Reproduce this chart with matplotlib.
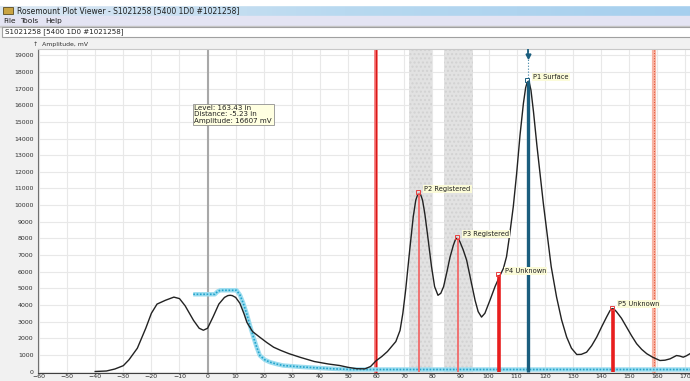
import matplotlib
matplotlib.use('Agg')
import matplotlib.pyplot as plt
import numpy as np
from matplotlib.patches import Rectangle

# ==========================================
# DADOS DO ECO
# ==========================================
dist_eco = [-40, -36, -33, -30, -28, -25, -22, -20, -18, -15, -12, -10, -8, -5, -3, -1.5, 0,
            2, 4, 6, 7.2, 8, 8.8, 10, 11.5, 13, 14, 16, 18.5, 21, 23.5, 26, 29, 33, 38, 43, 47, 50,
            53, 56, 58, 60, 62, 64, 65.5, 67, 68.5, 69.5, 70.5, 72, 73.2, 74.1, 74.8, 75.3, 75.8,
            76.5, 77.3, 78.3, 79.7, 80.8, 82, 83, 84, 85.2, 86.3, 87.5, 88.2, 88.7, 89.3, 89.8,
            91, 92.2, 93.7, 95.2, 96.3, 97.5, 98.7, 100.5, 102.3, 104.1, 105.3, 106.4, 107.5,
            108.8, 110, 111.2, 112.4, 113.2, 113.7, 114.1, 114.5, 115.1, 116, 117.2, 118.3, 119.5,
            120.7, 122.3, 124.2, 126, 127.8, 129.5, 131.4, 133, 134.9, 136.7, 138.5, 140.3, 142,
            143.2, 143.7, 144.2, 144.7, 145.5, 147.3, 149.1, 150.9, 152.7, 154.5, 156.3, 158.5,
            161, 162.8, 164.6, 166, 166.9, 168, 169.3, 170.5, 171.7]
amp_eco = [0, 30, 150, 350, 700, 1400, 2600, 3500, 4050, 4280, 4470, 4380, 3950, 3070, 2600,
           2480, 2600, 3300, 4050, 4450, 4560, 4580, 4560, 4450, 4100, 3450, 2950, 2400, 2070,
           1750, 1460, 1270, 1070, 850, 600, 450, 360, 250, 170, 160, 300, 650, 900, 1200, 1500,
           1800, 2470, 3500, 4900, 7400, 9300, 10300, 10640, 10700, 10640, 10300, 9500, 8200,
           6300, 5100, 4580, 4700, 5100, 6000, 6880, 7600, 7920, 8000, 7950, 7800, 7300, 6690,
           5500, 4280, 3600, 3270, 3500, 4280, 5100, 5780, 6200, 6900, 8200, 9900, 11900, 14200,
           16100, 17050, 17350, 17430, 17350, 16900, 15600, 13600, 11900, 10100, 8490, 6300,
           4480, 3100, 2070, 1400, 1020, 1030, 1160, 1550, 2070, 2700, 3270, 3650, 3750, 3780,
           3740, 3600, 3200, 2670, 2150, 1670, 1330, 1070, 850, 660, 680, 760, 880, 960, 930,
           860, 950, 1070]

# Curva de limiar (ATC)
dist_limiar = [-5.1, 2.6, 3.5, 4.5, 10.3, 11.5, 12.7, 13.9, 15.1, 16.3, 17.5, 18.6, 20.4,
               22.2, 24.5, 26.9, 33, 38.8, 45, 50.7, 171.7]
amp_limiar = [4640, 4640, 4800, 4880, 4880, 4600, 4100, 3480, 2750, 2070, 1450, 960, 700,
              560, 450, 360, 280, 220, 160, 120, 120]

# Picos
picos_nome = ['P1 Surface', 'P2 Registered', 'P3 Registered', 'P4 Unknown', 'P5 Unknown']
picos_dist = [114.1, 75.3, 89.0, 103.8, 144.2]
picos_amp = [17430, 10700, 8000, 5780, 3780]

# Zonas cinzas e linhas de referência
zonas = [(71.8, 80.0), (84.2, 94.3)]
linha_ref1 = 60.0
linha_ref2 = 159.0

W, H = 690, 381
fig = plt.figure(figsize=(W / 100, H / 100), dpi=100, facecolor='#f1f1f1')

# ==========================================
# "JANELA" (barra de título, menu, combo)
# ==========================================
chrome = fig.add_axes([0, 0, 1, 1])
chrome.set_xlim(0, W)
chrome.set_ylim(H, 0)
chrome.axis('off')
chrome.add_patch(Rectangle((0, 0), W, 5, color='white'))
grad = np.linspace(0, 1, 256).reshape(1, -1)
chrome.imshow(grad, extent=(0, W, 16, 5), aspect='auto',
              cmap=matplotlib.colors.LinearSegmentedColormap.from_list('t', ['#dbe7f3', '#b8d9f0', '#a6cfee']))
chrome.add_patch(Rectangle((0, 16), W, 9, color='#e4e4f3'))
chrome.add_patch(Rectangle((0, 25.5), W, 1, color='#c8c8c8'))
chrome.add_patch(Rectangle((2, 27), W, 10, facecolor='white', edgecolor='#a0a0a0', lw=0.8))
chrome.add_patch(Rectangle((3, 7), 10, 7, facecolor='#c9a443', edgecolor='#5a4a20', lw=0.6))
chrome.set_xlim(0, W)
chrome.set_ylim(H, 0)
chrome.text(17, 10.5, 'Rosemount Plot Viewer - S1021258 [5400 1D0 #1021258]',
            fontsize=5.5, va='center', color='#202020')
chrome.text(3, 20.8, 'File', fontsize=5.3, va='center', color='#202020')
chrome.text(20, 20.8, 'Tools', fontsize=5.3, va='center', color='#202020')
chrome.text(45, 20.8, 'Help', fontsize=5.3, va='center', color='#202020')
chrome.text(5, 32, 'S1021258 [5400 1D0 #1021258]', fontsize=5.1, va='center', color='#202020')
chrome.text(33, 44.5, '↑  Amplitude, mV', fontsize=4.4, va='center', color='#303030')

# ==========================================
# GRÁFICO
# ==========================================
ax = fig.add_axes([38 / W, (H - 372.5) / H, 1 - 38 / W, (372.5 - 49.3) / H])
ax.set_facecolor('white')
ax.set_xlim(-60.36, 171.7)
ax.set_ylim(-60, 19360)
ax.set_xticks(np.arange(-60, 171, 10))
ax.set_yticks(np.arange(0, 19001, 1000))
ax.tick_params(axis='both', length=0, labelsize=4.5, labelcolor='#303030')
ax.tick_params(axis='x', pad=1.2)
ax.tick_params(axis='y', pad=3.3)
ax.grid(True, color='#e8e8e8', lw=0.8)
ax.set_axisbelow(True)
ax.spines['right'].set_visible(False)
ax.spines['top'].set_color('#c8c8c8')
ax.spines['left'].set_color('#707070')
ax.spines['bottom'].set_color('#404040')

# zonas cinzas
for a, b in zonas:
    ax.axvspan(a, b, facecolor='#e2e2e2', edgecolor='#d2d2d2', hatch='....', lw=0, zorder=1)

# linha do cursor em 0
ax.axvline(0, color='#a8a8a8', lw=1.5, zorder=1.5)

# linhas vermelhas de referência
ax.axvline(linha_ref1, color='#f36a6a', lw=2.6, zorder=2)
ax.axvline(linha_ref1, color='#d81818', lw=0.8, zorder=2.1)
ax.axvline(linha_ref2, color='#f7b2a2', lw=3, zorder=2)
ax.axvline(linha_ref2, color='#e04a2a', lw=0.7, ls=':', zorder=2.1)

# curva de limiar (tracejada ciano)
ax.plot(dist_limiar, amp_limiar, color='#9bdcef', lw=3.2, zorder=3, solid_capstyle='butt')
ax.plot(dist_limiar, amp_limiar, color='#22a4cc', lw=1.2, ls=(0, (1, 1)), zorder=3.1)

# curva do eco
ax.plot(dist_eco, amp_eco, color='#222222', lw=1.0, zorder=4, solid_joinstyle='round')

# linhas dos picos
estilos = [('#1b5e7e', 2.4), ('#f07272', 1.4), ('#f07272', 1.4), ('#e81e1e', 2.6), ('#e81e1e', 2.6)]
for (cor, lw), xd, yd in zip(estilos, picos_dist, picos_amp):
    ax.plot([xd, xd], [0, yd], color=cor, lw=lw, zorder=5, solid_capstyle='butt')

# P1: linha pontilhada até o topo e seta
ax.plot([picos_dist[0], picos_dist[0]], [picos_amp[0], 19360], color='#3a80a2', lw=0.8, ls=':', zorder=5)
ax.plot([picos_dist[0]], [18950], marker='v', ms=3.5, color='#1b5e7e', zorder=6)
ax.plot([picos_dist[0], picos_dist[0]], [19000, 19360], color='#1b5e7e', lw=1.3, zorder=6)

# marcadores e rótulos
for i, (nome, xd, yd) in enumerate(zip(picos_nome, picos_dist, picos_amp)):
    cor_m = '#1b5e7e' if i == 0 else '#e84040'
    ax.plot([xd - 0.4], [yd + 60], marker='s', ms=3, mfc='none', mec=cor_m, mew=0.7, zorder=7)
    ax.annotate(nome, (xd, yd), textcoords='offset points', xytext=(3.8, 3.2),
                fontsize=4.8, va='center', ha='left', color='#202020', zorder=8,
                bbox=dict(boxstyle='square,pad=0.15', facecolor='#fbfbd8', edgecolor='none'))

# caixa de informação (tooltip)
fig.text(194.5 / W, 1 - 114.5 / H, 'Level: 163.43 in\nDistance: -5.23 in\nAmplitude: 16607 mV',
         fontsize=5.1, va='center', ha='left', linespacing=1.0, color='#202020',
         bbox=dict(boxstyle='square,pad=0.25', facecolor='#ffffe1', edgecolor='#909090', lw=0.6))

fig.savefig('out.png', dpi=100, facecolor=fig.get_facecolor())
